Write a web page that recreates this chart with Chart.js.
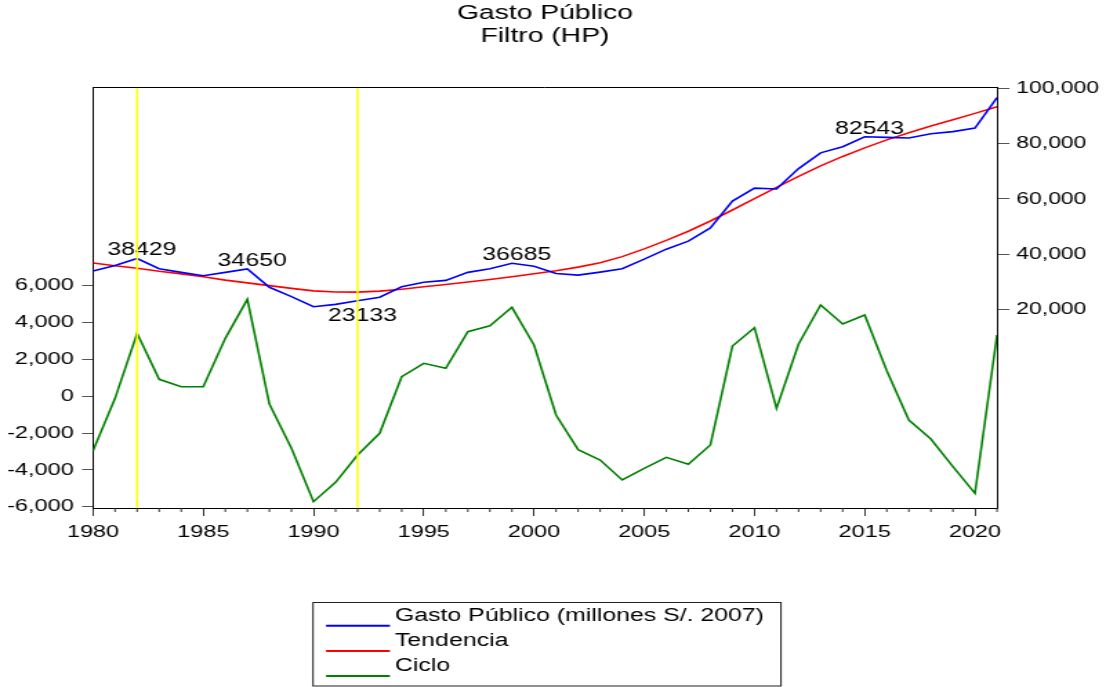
<!DOCTYPE html>
<html>
<head>
<meta charset="utf-8">
<title>Gasto Público - Filtro (HP)</title>
<script src="https://cdn.jsdelivr.net/npm/chart.js@4.4.1/dist/chart.umd.min.js"></script>
<style>
html, body { margin: 0; padding: 0; background: #fff; overflow: hidden; }
/* el grafico original esta estirado a lo ancho */
#wrap { width: 801px; height: 687px; transform: scaleX(1.38077); transform-origin: 0 0; }
</style>
</head>
<body>
<div id="wrap"><canvas id="myChart" width="801" height="687"></canvas></div>

<script>
var years = [1980, 1981, 1982, 1983, 1984, 1985, 1986, 1987, 1988, 1989,
             1990, 1991, 1992, 1993, 1994, 1995, 1996, 1997, 1998, 1999,
             2000, 2001, 2002, 2003, 2004, 2005, 2006, 2007, 2008, 2009,
             2010, 2011, 2012, 2013, 2014, 2015, 2016, 2017, 2018, 2019,
             2020, 2021];

// millones S/. 2007
var gasto = [33900, 35900, 38429, 34700, 33400, 32200, 33400, 34650, 28000, 24600,
             20950, 21800, 23133, 24400, 28200, 29800, 30500, 33400, 34700, 36685,
             35600, 33000, 32400, 33500, 34700, 38200, 41800, 44700, 49500, 59200,
             63900, 63600, 71000, 76700, 78900, 82543, 82300, 82100, 83600, 84400,
             85700, 96700];

var tendencia = [36800, 35800, 34900, 33800, 32850, 31800, 30600, 29600, 28600, 27600,
                 26700, 26300, 26260, 26600, 27300, 28200, 29000, 29900, 30800, 31800,
                 32900, 34000, 35300, 36900, 39100, 41900, 45000, 48300, 52000, 56000,
                 60100, 64200, 68200, 72000, 75400, 78500, 81400, 84000, 86400, 88700,
                 91000, 93400];

var ciclo = [-2960, -115, 3415, 917, 516, 516, 3143, 5260, -423, -2830,
             -5725, -4676, -3192, -2016, 1060, 1785, 1514, 3503, 3829, 4826,
             2780, -1020, -2900, -3464, -4550, -3916, -3319, -3699, -2650, 2725,
             3720, -660, 2834, 4950, 3920, 4408, 1385, -1292, -2324, -3827,
             -5272, 3322];

var marcaAnios = [1982, 1992];
var etiquetaAnios = [1982, 1987, 1992, 1999, 2015];
var etiquetaAbajo = [1992];
var ticksCiclo = [-6000, -4000, -2000, 0, 2000, 4000, 6000];
var ticksGasto = [20000, 40000, 60000, 80000, 100000];
var leyenda = ['Gasto Público (millones S/. 2007)', 'Tendencia', 'Ciclo'];

var FUENTE = '"Liberation Sans", Arial, sans-serif';

function serie(valores) {
	var out = [];
	for (var i = 0; i < years.length; i++) {
		out.push({x: years[i], y: valores[i]});
	}
	return out;
}

function fijarTicks(lista) {
	return function(scale) {
		scale.ticks = lista.map(function(v) { return {value: v}; });
	};
}

function miles(v) {
	return Number(v).toLocaleString('en-US');
}

var extras = {
	id: 'extras',
	afterDatasetsDraw: function(chart) {
		var ctx = chart.ctx;
		var area = chart.chartArea;
		var sx = chart.scales.x;
		var sy = chart.scales.yR;
		ctx.save();

		// etiquetas de valores
		ctx.font = '18px ' + FUENTE;
		ctx.fillStyle = '#000';
		ctx.textAlign = 'center';
		ctx.textBaseline = 'alphabetic';
		etiquetaAnios.forEach(function(a) {
			var i = years.indexOf(a);
			var px = sx.getPixelForValue(a) + 3.5;
			var py = sy.getPixelForValue(gasto[i]);
			if (etiquetaAbajo.indexOf(a) >= 0) {
				ctx.fillText(String(gasto[i]), px, py + 20);
			} else {
				ctx.fillText(String(gasto[i]), px, py - 3);
			}
		});

		// lineas verticales amarillas
		ctx.strokeStyle = '#ffff00';
		ctx.lineWidth = 1.5;
		marcaAnios.forEach(function(a) {
			var px = sx.getPixelForValue(a);
			ctx.beginPath();
			ctx.moveTo(px, area.top);
			ctx.lineTo(px, area.bottom);
			ctx.stroke();
		});

		// borde superior del marco
		ctx.strokeStyle = '#000';
		ctx.lineWidth = 1;
		ctx.beginPath();
		ctx.moveTo(area.left, area.top + 0.5);
		ctx.lineTo(area.right, area.top + 0.5);
		ctx.stroke();
		ctx.restore();
	},
	afterDraw: function(chart) {
		var ctx = chart.ctx;
		var area = chart.chartArea;
		var sx = chart.scales.x;
		ctx.save();

		// ticks menores del eje x
		ctx.strokeStyle = '#333';
		ctx.lineWidth = 1;
		years.forEach(function(a) {
			if (a % 5 === 0) return;
			var px = sx.getPixelForValue(a);
			ctx.beginPath();
			ctx.moveTo(px, area.bottom);
			ctx.lineTo(px, area.bottom + 4);
			ctx.stroke();
		});

		// leyenda
		ctx.strokeStyle = '#222';
		ctx.lineWidth = 1;
		ctx.strokeRect(226.7, 602.5, 338.9, 83.5);
		ctx.font = '18px ' + FUENTE;
		ctx.fillStyle = '#000';
		ctx.textAlign = 'left';
		ctx.textBaseline = 'alphabetic';
		chart.data.datasets.forEach(function(ds, i) {
			var y = 625.7 + i * 25.2;
			ctx.strokeStyle = ds.borderColor;
			ctx.lineWidth = 2;
			ctx.beginPath();
			ctx.moveTo(236.1, y);
			ctx.lineTo(282.4, y);
			ctx.stroke();
			ctx.fillText(ds.label, 286.1, y - 4.7);
		});
		ctx.restore();
	}
};

var tickFont = {family: FUENTE, size: 17};

new Chart(document.getElementById('myChart'), {
	type: 'line',
	data: {
		datasets: [
			{label: leyenda[0], data: serie(gasto), yAxisID: 'yR', borderColor: '#0000ff',
			 borderWidth: 1.6, pointRadius: 0, tension: 0, fill: false},
			{label: leyenda[1], data: serie(tendencia), yAxisID: 'yR', borderColor: '#ff0000',
			 borderWidth: 1.6, pointRadius: 0, tension: 0, fill: false},
			{label: leyenda[2], data: serie(ciclo), yAxisID: 'yL', borderColor: '#008000',
			 borderWidth: 1.6, pointRadius: 0, tension: 0, fill: false}
		]
	},
	options: {
		responsive: false,
		animation: false,
		devicePixelRatio: 1,
		layout: {padding: 0},
		plugins: {
			legend: {display: false},
			tooltip: {enabled: false},
			title: {
				display: true,
				fullSize: false,
				text: ['Gasto Público', 'Filtro (HP)'],
				color: '#000',
				font: {family: FUENTE, size: 20.5, weight: 'normal', lineHeight: 1.11},
				padding: {top: 2.2, bottom: 39.3}
			}
		},
		scales: {
			x: {
				type: 'linear',
				min: 1980,
				max: 2021,
				afterBuildTicks: fijarTicks(years),
				afterFit: function(s) { s.height = 179; },
				grid: {
					drawOnChartArea: false,
					tickLength: 8,
					tickColor: function(c) {
						return (c.tick && c.tick.value % 5 === 0) ? '#333' : 'rgba(0,0,0,0)';
					}
				},
				border: {color: '#000', width: 1},
				ticks: {
					autoSkip: false,
					maxRotation: 0,
					padding: 6,
					color: '#000',
					font: tickFont,
					callback: function(v) { return v % 5 === 0 ? String(v) : ''; }
				}
			},
			yL: {
				position: 'left',
				min: -6070,
				max: 16790,
				afterBuildTicks: fijarTicks(ticksCiclo),
				afterFit: function(s) { s.width = 67.35; },
				grid: {drawOnChartArea: false, tickLength: 8, tickColor: '#555'},
				border: {color: '#000', width: 1},
				ticks: {padding: 6, color: '#000', font: tickFont, callback: miles}
			},
			yR: {
				position: 'right',
				min: -51960,
				max: 100550,
				afterBuildTicks: fijarTicks(ticksGasto),
				afterFit: function(s) { s.width = 78.93; },
				grid: {drawOnChartArea: false, tickLength: 9, tickColor: '#555'},
				border: {color: '#000', width: 1},
				ticks: {padding: 5, color: '#000', font: {family: FUENTE, size: 16.6}, callback: miles}
			}
		}
	},
	plugins: [extras]
});
</script>
</body>
</html>
